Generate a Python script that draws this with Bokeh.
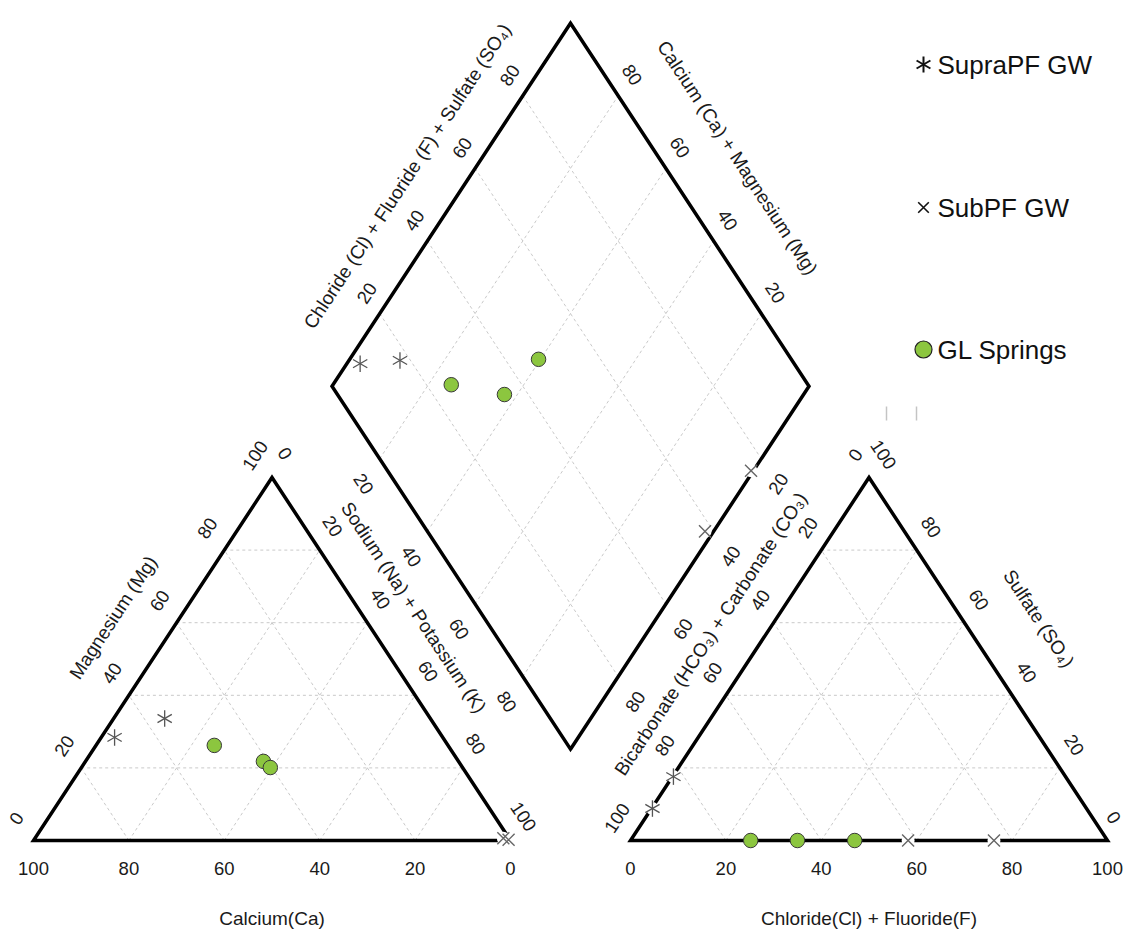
import math
from bokeh.plotting import figure
from bokeh.models import ColumnDataSource, Range1d
from bokeh.core.properties import value
from bokeh.embed import file_html
from bokeh.resources import INLINE

# ---------------- data (percent of meq/L) ----------------
series_names = ["SupraPF GW", "SubPF GW", "GL Springs"]

supra_ca = [68.8, 55.7]
supra_mg = [28.4, 33.6]
supra_na = [2.8, 10.7]
supra_hco3 = [91.0, 82.2]
supra_so4 = [8.8, 17.6]
supra_cl = [0.2, 0.2]

sub_ca = [1.2, 0.3]
sub_mg = [0.6, 0.2]
sub_na = [98.2, 99.5]
sub_hco3 = [41.8, 23.8]
sub_so4 = [0.0, 0.0]
sub_cl = [58.2, 76.2]

gl_ca = [49.0, 40.9, 40.3]
gl_mg = [26.2, 21.8, 20.1]
gl_na = [24.8, 37.3, 39.6]
gl_hco3 = [74.8, 65.0, 53.0]
gl_so4 = [0.0, 0.0, 0.0]
gl_cl = [25.2, 35.0, 47.0]

tick_values = [0, 20, 40, 60, 80, 100]
inner_ticks = [20, 40, 60, 80]

title_ca = "Calcium(Ca)"
title_mg = "Magnesium (Mg)"
title_nak = "Sodium (Na) + Potassium (K)"
title_clf = "Chloride(Cl) + Fluoride(F)"
title_so4 = "Sulfate (SO\u2084)"
title_hco3 = "Bicarbonate (HCO\u2083) + Carbonate (CO\u2083)"
title_clso4 = "Chloride (Cl) + Fluoride (F) + Sulfate (SO\u2084)"
title_camg = "Calcium (Ca) + Magnesium (Mg)"

# ---------------- geometry ----------------
W, H = 1128, 935
SX = 4.77                 # px per percent unit (horizontal)
SY = 363 / 86.6025        # px per y unit (vertical)
S = math.sqrt(3) / 2
OX = 33                   # canvas x of cation triangle origin
OY = 840                  # canvas y (from top) of baseline
GAP = 120 / SX
OFF = 100 + GAP
BX, BY = 100 + GAP / 2, GAP * S
TH = math.atan2(86.6025 * SY, 50 * SX)   # on-screen edge angle

FONT = value("Liberation Sans")
TXT = "#1a1a1a"


def cat_xy(ca, mg, na):
    t = ca + mg + na
    mg, na = 100 * mg / t, 100 * na / t
    return na + mg / 2, mg * S


def an_xy(hco3, so4, cl):
    t = hco3 + so4 + cl
    so4, cl = 100 * so4 / t, 100 * cl / t
    return OFF + cl + so4 / 2, so4 * S


def dia_xy(a, b):
    return BX - 0.5 * (100 - a) + 0.5 * b, BY + S * (100 - a) + S * b


def shift(pt, dx, dy):
    return pt[0] + dx / SX, pt[1] - dy / SY


def px(cx, cy):
    return (cx - OX) / SX, (OY - cy) / SY


def project(ca, mg, na, hco3, so4, cl):
    cx, cy, ax, ay, dx, dy = [], [], [], [], [], []
    for i in range(len(ca)):
        x, y = cat_xy(ca[i], mg[i], na[i]); cx.append(x); cy.append(y)
        x, y = an_xy(hco3[i], so4[i], cl[i]); ax.append(x); ay.append(y)
        a = 100 * na[i] / (ca[i] + mg[i] + na[i])
        b = 100 * (cl[i] + so4[i]) / (hco3[i] + so4[i] + cl[i])
        x, y = dia_xy(a, b); dx.append(x); dy.append(y)
    return cx + ax + dx, cy + ay + dy


p = figure(width=W, height=H, title=None,
           x_range=Range1d(-OX / SX, (W - OX) / SX),
           y_range=Range1d(-(H - OY) / SY, OY / SY),
           output_backend="svg", toolbar_location=None,
           x_axis_location=None, y_axis_location=None,
           min_border=0, min_border_left=0, min_border_right=0,
           min_border_top=0, min_border_bottom=0,
           outline_line_color=None, background_fill_color="white",
           border_fill_color="white")
p.xgrid.visible = False
p.ygrid.visible = False

# ---------------- grid lines ----------------
gx, gy = [], []
for v in inner_ticks:
    segs = [
        (cat_xy(100 - v, v, 0), cat_xy(0, v, 100 - v)),
        (cat_xy(100 - v, 0, v), cat_xy(0, 100 - v, v)),
        (cat_xy(v, 0, 100 - v), cat_xy(v, 100 - v, 0)),
        (an_xy(100 - v, v, 0), an_xy(0, v, 100 - v)),
        (an_xy(100 - v, 0, v), an_xy(0, 100 - v, v)),
        (an_xy(v, 0, 100 - v), an_xy(v, 100 - v, 0)),
        (dia_xy(v, 0), dia_xy(v, 100)),
        (dia_xy(0, v), dia_xy(100, v)),
    ]
    for a, b in segs:
        gx.append([a[0], b[0]]); gy.append([a[1], b[1]])
p.multi_line(gx, gy, line_color="#c9c9c9", line_width=1, line_dash="3 3")

# ---------------- outlines ----------------
cat_v = [cat_xy(100, 0, 0), cat_xy(0, 0, 100), cat_xy(0, 100, 0)]
an_v = [an_xy(100, 0, 0), an_xy(0, 0, 100), an_xy(0, 100, 0)]
dia_v = [dia_xy(100, 0), dia_xy(100, 100), dia_xy(0, 100), dia_xy(0, 0)]
ox, oy = [], []
for poly in (cat_v, an_v, dia_v):
    ox.append([q[0] for q in poly] + [poly[0][0], poly[1][0]])
    oy.append([q[1] for q in poly] + [poly[0][1], poly[1][1]])
p.multi_line(ox, oy, line_color="black", line_width=3.5, line_join="miter")

# ---------------- tick labels ----------------
lx, ly, lt, la = [], [], [], []


def add(pt, txt, ang):
    lx.append(pt[0]); ly.append(pt[1]); lt.append(txt); la.append(ang)


for v in tick_values:
    add(shift((100 - v, 0), 0, 28), str(v), 0)                         # Ca bottom
    add(shift((v / 2, v * S), -17, -22), str(v), TH)                   # Mg left
    add(shift(cat_xy(0, 100 - v, v), 13, -24), str(v), -TH)            # Na right
    add(shift((OFF + v, 0), 0, 28), str(v), 0)                         # Cl bottom
    add(shift(an_xy(v, 100 - v, 0), -13.5, -22.5), str(v), TH)         # HCO3 left
    add(shift(an_xy(0, v, 100 - v), 14.5, -23), str(v), -TH)           # SO4 right
for v in inner_ticks:
    add(shift(dia_xy(0, v), -13, -20.5), str(v), TH)                   # Cl+SO4
    add(shift(dia_xy(100 - v, 100), 14, -21), str(v), -TH)             # Ca+Mg
    add(shift(dia_xy(v, 0), -16, 25), str(v), -TH)                     # Na+K
    add(shift(dia_xy(100, 100 - v), 17, 25), str(v), TH)               # HCO3

# keep labels inside canvas
fs = 18.5
for i in range(len(lx)):
    cx = (lx[i] * SX) + OX
    w = len(lt[i]) * 0.556 * fs
    h = fs * 0.9
    ex = (abs(w * math.cos(la[i])) + abs(h * math.sin(la[i]))) / 2
    if cx + ex > W - 5:
        lx[i] -= (cx + ex - (W - 5)) / SX
    if cx - ex < 3:
        lx[i] += (3 - (cx - ex)) / SX

p.text(x="x", y="y", text="t", angle="a",
       source=ColumnDataSource(dict(x=lx, y=ly, t=lt, a=la)),
       text_align="center", text_baseline="middle", text_font=FONT,
       text_font_size=value("18.5px"), text_color=TXT)

# ---------------- axis titles ----------------
tx, ty, tt, ta = [], [], [], []


def addt(pt, txt, ang):
    tx.append(pt[0]); ty.append(pt[1]); tt.append(txt); ta.append(ang)


addt(shift((50, 0), 0, 78), title_ca, 0)
addt(shift((OFF + 50, 0), 0, 78), title_clf, 0)
addt(shift((25, 50 * S), -39.5, -41.5), title_mg, TH)
addt(shift(cat_xy(0, 50, 50), 22.5, -51.5), title_nak, -TH)
addt(shift(dia_xy(0, 50), -44, -28.5), title_clso4, TH)
addt(shift(dia_xy(50, 100), 47.7, -47), title_camg, -TH)
addt(shift(an_xy(50, 50, 0), -39, -25), title_hco3, TH)
addt(shift(an_xy(0, 50, 50), 50.5, -40.5), title_so4, -TH)

p.text(x="x", y="y", text="t", angle="a",
       source=ColumnDataSource(dict(x=tx, y=ty, t=tt, a=ta)),
       text_align="center", text_baseline="middle", text_font=FONT,
       text_font_size=value("19px"), text_color=TXT)

# ---------------- data points ----------------
sx_, sy_ = project(supra_ca, supra_mg, supra_na, supra_hco3, supra_so4, supra_cl)
bx_, by_ = project(sub_ca, sub_mg, sub_na, sub_hco3, sub_so4, sub_cl)
gx_, gy_ = project(gl_ca, gl_mg, gl_na, gl_hco3, gl_so4, gl_cl)

ARMS = [math.pi / 2, math.pi / 6, -math.pi / 6]   # six-armed asterisk


def asterisk(xs, ys, size, color, lw):
    for a in ARMS:
        p.scatter(xs, ys, marker="dash", size=size, angle=a,
                  line_color=color, line_width=lw)


# white halos that break the outline behind the line markers
p.scatter(sx_ + bx_, sy_ + by_, marker="circle", size=13,
          fill_color="white", line_color=None)
asterisk(sx_, sy_, 16.5, "#555555", 1.3)
p.scatter(bx_, by_, marker="x", size=17, line_color="#666666", line_width=1.4)
p.scatter(gx_, gy_, marker="circle", size=14.5, fill_color="#8cc63f",
          line_color="#3a3a3a", line_width=1)

# ---------------- legend (manual) ----------------
leg_x = 923
leg_y = [64, 207, 349]
leg_markers = ["asterisk", "x", "circle"]
for i, name in enumerate(series_names):
    mx, my = px(leg_x, leg_y[i])
    if leg_markers[i] == "circle":
        p.scatter([mx], [my], marker="circle", size=17, fill_color="#8cc63f",
                  line_color="#222222", line_width=1.2)
    elif leg_markers[i] == "asterisk":
        asterisk([mx], [my], 16, "#111111", 2)
    else:
        p.scatter([mx], [my], marker="x", size=15, line_color="#111111",
                  line_width=1.6)
    tx0, ty0 = px(leg_x + 14, leg_y[i])
    p.text([tx0], [ty0], text=[name], text_align="left",
           text_baseline="middle", text_font=FONT,
           text_font_size=value("26px"), text_color="#111111")

# small gray marks under the legend
m1a, m1b = px(886, 406), px(886, 420)
m2a, m2b = px(916, 406), px(916, 420)
p.segment([m1a[0], m2a[0]], [m1a[1], m2a[1]], [m1b[0], m2b[0]], [m1b[1], m2b[1]],
          line_color="#c4c4c4", line_width=1.5)

open("out.html", "w").write(file_html(p, INLINE))
